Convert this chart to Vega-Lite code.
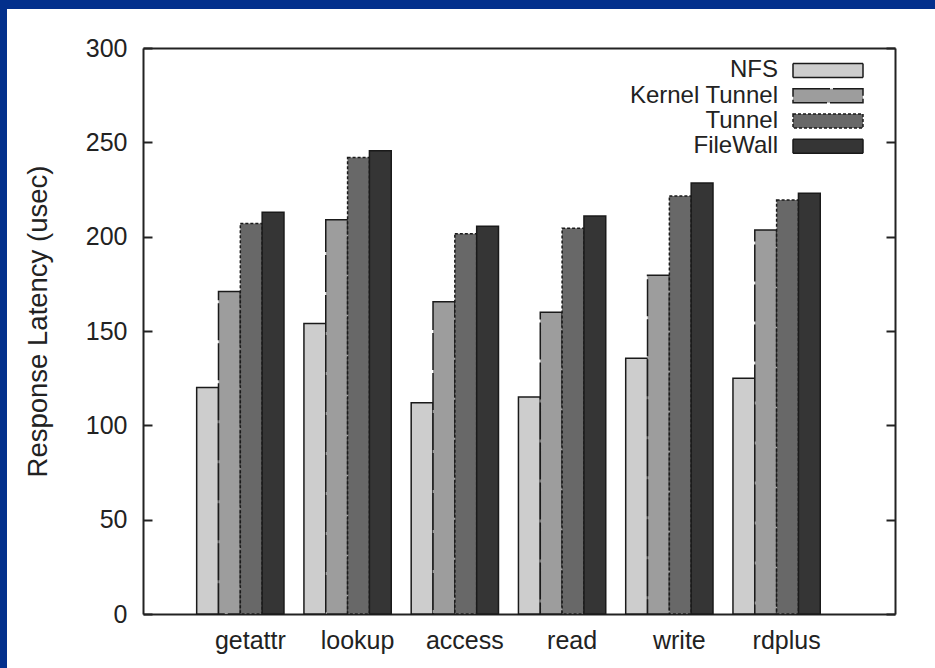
{
  "$schema": "https://vega.github.io/schema/vega-lite/v6.json",
  "width": 928,
  "height": 659,
  "autosize": "none",
  "padding": {"left": 7, "top": 9, "right": 0, "bottom": 0},
  "background": "#03308c",
  "config": {
    "view": {"fill": "white", "stroke": null},
    "font": "Liberation Sans",
    "axis": {"labelFont": "Liberation Sans", "titleFont": "Liberation Sans", "labelColor": "#222222", "titleColor": "#222222", "domainColor": "#222222", "domainWidth": 2, "tickColor": "#222222", "tickWidth": 2, "grid": false},
    "legend": {"labelFont": "Liberation Sans", "labelColor": "#222222"}
  },
  "data": {
    "values": [
      {"op": "getattr", "system": "NFS", "latency": 120},
      {"op": "getattr", "system": "Kernel Tunnel", "latency": 171},
      {"op": "getattr", "system": "Tunnel", "latency": 207},
      {"op": "getattr", "system": "FileWall", "latency": 213},
      {"op": "lookup", "system": "NFS", "latency": 154},
      {"op": "lookup", "system": "Kernel Tunnel", "latency": 209},
      {"op": "lookup", "system": "Tunnel", "latency": 242},
      {"op": "lookup", "system": "FileWall", "latency": 245.5},
      {"op": "access", "system": "NFS", "latency": 112},
      {"op": "access", "system": "Kernel Tunnel", "latency": 165.5},
      {"op": "access", "system": "Tunnel", "latency": 201.5},
      {"op": "access", "system": "FileWall", "latency": 205.5},
      {"op": "read", "system": "NFS", "latency": 115},
      {"op": "read", "system": "Kernel Tunnel", "latency": 160},
      {"op": "read", "system": "Tunnel", "latency": 204.5},
      {"op": "read", "system": "FileWall", "latency": 211},
      {"op": "write", "system": "NFS", "latency": 135.5},
      {"op": "write", "system": "Kernel Tunnel", "latency": 179.5},
      {"op": "write", "system": "Tunnel", "latency": 221.5},
      {"op": "write", "system": "FileWall", "latency": 228.5},
      {"op": "rdplus", "system": "NFS", "latency": 125},
      {"op": "rdplus", "system": "Kernel Tunnel", "latency": 203.5},
      {"op": "rdplus", "system": "Tunnel", "latency": 219.5},
      {"op": "rdplus", "system": "FileWall", "latency": 223}
    ]
  },
  "layer": [
    {
      "mark": {"type": "bar", "stroke": "#1a1a1a", "strokeWidth": 1.5},
      "encoding": {
        "x": {
          "field": "op", "type": "nominal",
          "sort": ["getattr", "lookup", "access", "read", "write", "rdplus"],
          "scale": {"range": [136, 888], "paddingInner": 0.186, "paddingOuter": 0.5986, "align": 0.418},
          "axis": {"orient": "bottom", "offset": -54, "ticks": false, "domain": true, "labelAngle": 0, "labelFontSize": 25, "labelPadding": 14, "labelOffset": 10, "title": null}
        },
        "xOffset": {
          "field": "system", "type": "nominal",
          "sort": ["NFS", "Kernel Tunnel", "Tunnel", "FileWall"],
          "scale": {"paddingInner": 0, "paddingOuter": 0}
        },
        "y": {
          "field": "latency", "type": "quantitative",
          "scale": {"domain": [0, 300], "range": [605, 39], "nice": false, "zero": true},
          "axis": {"orient": "left", "offset": -136, "values": [0, 50, 100, 150, 200, 250, 300], "tickSize": -9, "labelFontSize": 25, "labelPadding": 25, "title": "Response Latency (usec)", "titleFontSize": 27.5, "titleFontWeight": "normal", "titlePadding": 33, "titleY": 312}
        },
        "color": {
          "field": "system", "type": "nominal",
          "sort": ["NFS", "Kernel Tunnel", "Tunnel", "FileWall"],
          "scale": {"domain": ["NFS", "Kernel Tunnel", "Tunnel", "FileWall"], "range": ["#cdcdcd", "#9d9d9d", "#686868", "#353535"]},
          "legend": {"orient": "none", "legendX": 608, "legendY": 48.4, "title": null, "labelAlign": "right", "labelOffset": -63, "symbolOffset": 200, "symbolType": "M-2.9167,-0.5833H2.9167V0.5833H-2.9167Z", "symbolSize": 576, "symbolStrokeColor": "#1a1a1a", "symbolStrokeWidth": 1.5, "symbolOpacity": 1, "labelFontSize": 24, "rowPadding": 0.3, "padding": 0,
            "encode": {"symbols": {"update": {"stroke": {"value": "#1a1a1a"}, "strokeWidth": {"value": 1.5}}}}}
        },
        "strokeDash": {
          "field": "system", "type": "nominal",
          "sort": ["NFS", "Kernel Tunnel", "Tunnel", "FileWall"],
          "scale": {"domain": ["NFS", "Kernel Tunnel", "Tunnel", "FileWall"], "range": [[1, 0], [37, 3], [3, 2], [1, 0]]},
          "legend": {"orient": "none", "legendX": 608, "legendY": 48.4, "title": null, "labelAlign": "right", "labelOffset": -63, "symbolOffset": 200, "symbolType": "M-2.9167,-0.5833H2.9167V0.5833H-2.9167Z", "symbolSize": 576, "symbolStrokeColor": "#1a1a1a", "symbolStrokeWidth": 1.5, "symbolOpacity": 1, "labelFontSize": 24, "rowPadding": 0.3, "padding": 0,
            "encode": {"symbols": {"update": {"stroke": {"value": "#1a1a1a"}, "strokeWidth": {"value": 1.5}}}}}
        }
      }
    },
    {
      "mark": {"type": "tick", "opacity": 0},
      "encoding": {
        "x": {
          "field": "op", "type": "nominal",
          "sort": ["getattr", "lookup", "access", "read", "write", "rdplus"],
          "scale": {"range": [136, 888], "paddingInner": 0.186, "paddingOuter": 0.5986, "align": 0.418},
          "axis": {"orient": "top", "offset": -39, "ticks": false, "labels": false, "domain": true, "title": null}
        },
        "y": {
          "field": "latency", "type": "quantitative",
          "scale": {"domain": [0, 300], "range": [605, 39], "nice": false, "zero": true},
          "axis": {"orient": "right", "offset": -40, "values": [0, 50, 100, 150, 200, 250, 300], "tickSize": -9, "labels": false, "title": null}
        }
      }
    }
  ],
  "resolve": {
    "scale": {"x": "independent", "y": "independent"},
    "axis": {"x": "independent", "y": "independent"}
  }
}
